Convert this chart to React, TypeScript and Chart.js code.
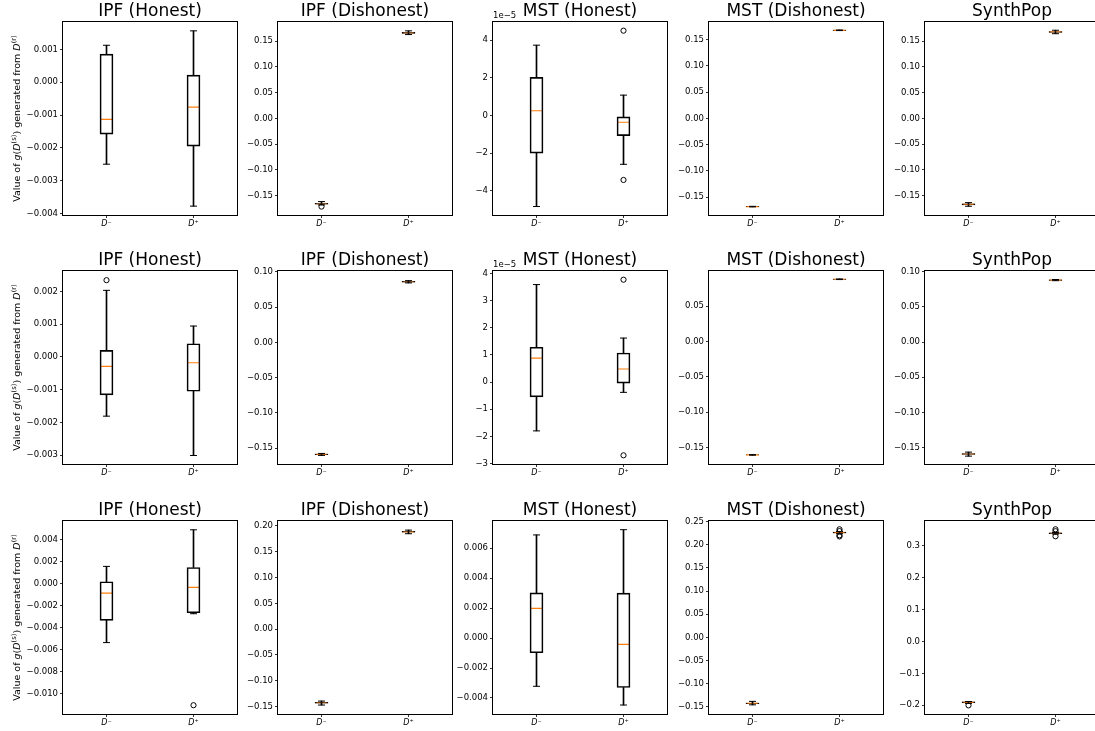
import React, { useEffect, useRef } from 'react';
import { Chart, registerables } from 'chart.js';

Chart.register(...registerables);

const panelTitles = ['IPF (Honest)', 'IPF (Dishonest)', 'MST (Honest)', 'MST (Dishonest)', 'SynthPop'];
const categories = ['D\u207B', 'D\u207A'];

// Panels listed row by row (3 rows x 5 columns); each pair is [D-, D+].
const whiskerLow = [
  [-0.0025, -0.00378], [-0.168, 0.1628], [-4.83e-5, -2.59e-5], [-0.1683, 0.1671], [-0.1705, 0.1645],
  [-0.00181, -0.00301], [-0.1605, 0.0845], [-1.8e-5, -0.38e-5], [-0.1609, 0.0876], [-0.1622, 0.0874],
  [-0.00536, -0.00273], [-0.1474, 0.185], [-0.00322, -0.00447], [-0.146, 0.224], [-0.1945, 0.337],
];
const quartile1 = [
  [-0.00158, -0.00195], [-0.1665, 0.1652], [-2.0e-5, -1.07e-5], [-0.168, 0.1674], [-0.1678, 0.167],
  [-0.00116, -0.00105], [-0.1596, 0.0855], [-0.55e-5, -0.04e-5], [-0.1606, 0.0879], [-0.1598, 0.0879],
  [-0.00333, -0.00264], [-0.1437, 0.1878], [-0.00098, -0.0033], [-0.1436, 0.2255], [-0.1925, 0.3382],
];
const medians = [
  [-0.00113, -0.00076], [-0.1657, 0.1662], [0.25e-5, -0.36e-5], [-0.1678, 0.1676], [-0.1668, 0.168],
  [-0.00029, -0.00018], [-0.1591, 0.0861], [0.88e-5, 0.48e-5], [-0.1605, 0.088], [-0.1592, 0.0883],
  [-0.00085, -0.00033], [-0.1429, 0.1887], [0.00198, -0.00042], [-0.1428, 0.2263], [-0.191, 0.3395],
];
const quartile3 = [
  [0.00086, 0.00022], [-0.1648, 0.1672], [2.02e-5, -0.07e-5], [-0.1676, 0.1678], [-0.1658, 0.1688],
  [0.0002, 0.0004], [-0.1586, 0.0867], [1.28e-5, 1.07e-5], [-0.1604, 0.0881], [-0.1585, 0.0887],
  [0.00018, 0.00148], [-0.1421, 0.1895], [0.00302, 0.003], [-0.142, 0.2272], [-0.1898, 0.3408],
];
const whiskerHigh = [
  [0.00113, 0.00157], [-0.1615, 0.17], [3.73e-5, 1.08e-5], [-0.1673, 0.1681], [-0.1635, 0.1712],
  [0.00203, 0.00094], [-0.1577, 0.0877], [3.59e-5, 1.62e-5], [-0.1601, 0.0884], [-0.1565, 0.0891],
  [0.00158, 0.00491], [-0.1397, 0.192], [0.00689, 0.00724], [-0.1385, 0.2285], [-0.1885, 0.342],
];
const outliersMinus = [
  [], [-0.1712], [], [], [],
  [0.00234], [], [], [], [],
  [], [], [], [], [-0.2006],
];
const outliersPlus = [
  [], [], [4.5e-5, -3.42e-5], [], [],
  [], [], [3.77e-5, -2.7e-5], [], [],
  [-0.01106], [], [], [0.2335, 0.2295, 0.2205, 0.218], [0.352, 0.346, 0.33],
];

const yMin = [
  -0.00405, -0.1875, -5.28e-5, -0.1838, -0.1875,
  -0.00327, -0.1727, -3.02e-5, -0.1734, -0.1734,
  -0.01186, -0.1648, -0.00507, -0.1658, -0.2277,
];
const yMax = [
  0.00184, 0.1872, 4.96e-5, 0.1834, 0.1872,
  0.00262, 0.1014, 4.09e-5, 0.0997, 0.1012,
  0.00571, 0.2097, 0.00782, 0.2514, 0.378,
];
const yTicks = [
  [-0.004, -0.003, -0.002, -0.001, 0, 0.001],
  [-0.15, -0.1, -0.05, 0, 0.05, 0.1, 0.15],
  [-4e-5, -2e-5, 0, 2e-5, 4e-5],
  [-0.15, -0.1, -0.05, 0, 0.05, 0.1, 0.15],
  [-0.15, -0.1, -0.05, 0, 0.05, 0.1, 0.15],
  [-0.003, -0.002, -0.001, 0, 0.001, 0.002],
  [-0.15, -0.1, -0.05, 0, 0.05, 0.1],
  [-3e-5, -2e-5, -1e-5, 0, 1e-5, 2e-5, 3e-5, 4e-5],
  [-0.15, -0.1, -0.05, 0, 0.05],
  [-0.15, -0.1, -0.05, 0, 0.05, 0.1],
  [-0.01, -0.008, -0.006, -0.004, -0.002, 0, 0.002, 0.004],
  [-0.15, -0.1, -0.05, 0, 0.05, 0.1, 0.15, 0.2],
  [-0.004, -0.002, 0, 0.002, 0.004, 0.006],
  [-0.15, -0.1, -0.05, 0, 0.05, 0.1, 0.15, 0.2, 0.25],
  [-0.2, -0.1, 0, 0.1, 0.2, 0.3],
];
const yTickDecimals = [3, 2, 0, 2, 2, 3, 2, 0, 2, 2, 3, 2, 3, 2, 1];
const yOffsetExponent = [0, 0, -5, 0, 0, 0, 0, -5, 0, 0, 0, 0, 0, 0, 0];
const yAxisLabelRuns = [
  { text: 'Value of ', italic: false, sup: false },
  { text: 'g', italic: true, sup: false },
  { text: '(', italic: false, sup: false },
  { text: 'D', italic: true, sup: false },
  { text: '(s)', italic: false, sup: true },
  { text: ') generated from ', italic: false, sup: false },
  { text: 'D', italic: true, sup: false },
  { text: '(r)', italic: false, sup: true },
];

// layout (pixels)
const COL_LEFT = [63, 278, 493, 709, 925];
const ROW_TOP = [22, 271, 521];
const PLOT_W = 174;
const PLOT_H = 193;
const Y_AXIS_W = 62;
const TITLE_H = 24;
const X_AXIS_H = 20;
const RIGHT_PAD = 8;
const CANVAS_W = Y_AXIS_W + PLOT_W + RIGHT_PAD;
const CANVAS_H = TITLE_H + PLOT_H + X_AXIS_H;
const FONT = "'DejaVu Sans', sans-serif";
const TICK_SIZE = 8.5;

function formatTick(v: number, i: number): string {
  const e = yOffsetExponent[i];
  let s: string;
  if (e !== 0) s = String(Math.round(v / Math.pow(10, e)));
  else s = v.toFixed(yTickDecimals[i]);
  if (/^-0(\.0+)?$/.test(s)) s = s.slice(1);
  return s.replace('-', '\u2212');
}

const framePlugin = {
  id: 'frame',
  afterDraw(chart: any) {
    const { ctx, chartArea: a } = chart;
    ctx.save();
    ctx.strokeStyle = '#000';
    ctx.lineWidth = 1;
    ctx.strokeRect(a.left - 0.5, a.top - 0.5, a.right - a.left + 1, a.bottom - a.top + 1);
    ctx.restore();
  },
};

function makeExtrasPlugin(i: number, col: number) {
  return {
    id: 'extras' + i,
    afterDraw(chart: any) {
      const { ctx, chartArea: a } = chart;
      ctx.save();
      ctx.fillStyle = '#000';
      if (yOffsetExponent[i] !== 0) {
        ctx.font = `${TICK_SIZE}px ${FONT}`;
        ctx.textAlign = 'left';
        ctx.textBaseline = 'bottom';
        ctx.fillText('1e\u2212' + Math.abs(yOffsetExponent[i]), a.left, a.top - 2);
      }
      if (col === 0) {
        const size = 9.5;
        const supSize = 6.8;
        const fontFor = (r: any) => `${r.italic ? 'italic ' : ''}${r.sup ? supSize : size}px ${FONT}`;
        let total = 0;
        const widths = yAxisLabelRuns.map((r) => {
          ctx.font = fontFor(r);
          const w = ctx.measureText(r.text).width;
          total += w;
          return w;
        });
        const cy = (a.top + a.bottom) / 2;
        ctx.translate(15, cy);
        ctx.rotate(-Math.PI / 2);
        ctx.textAlign = 'left';
        ctx.textBaseline = 'alphabetic';
        let x = -total / 2;
        yAxisLabelRuns.forEach((r, k) => {
          ctx.font = fontFor(r);
          ctx.fillText(r.text, x, r.sup ? 0 : 3.5);
          x += widths[k];
        });
      }
      ctx.restore();
    },
  };
}

function Panel({ index }: { index: number }) {
  const ref = useRef<HTMLCanvasElement>(null);
  const row = Math.floor(index / 5);
  const col = index % 5;
  useEffect(() => {
    const canvas = ref.current;
    if (!canvas) return;
    const i = index;
    const pts = (vals: number[], cat: string) => vals.map((y) => ({ x: cat, y }));
    const chart = new Chart(canvas, {
      type: 'bar',
      data: {
        labels: categories,
        datasets: [
          {
            type: 'bar',
            data: whiskerLow[i].map((lo, k) => [lo, quartile1[i][k]]),
            backgroundColor: '#000',
            borderWidth: 0,
            barThickness: 1,
            grouped: false,
          } as any,
          {
            type: 'bar',
            data: quartile3[i].map((q, k) => [q, whiskerHigh[i][k]]),
            backgroundColor: '#000',
            borderWidth: 0,
            barThickness: 1,
            grouped: false,
          } as any,
          {
            type: 'bar',
            data: quartile1[i].map((q, k) => [q, quartile3[i][k]]),
            backgroundColor: 'rgba(0,0,0,0)',
            borderColor: '#000',
            borderWidth: 1,
            borderSkipped: false,
            barThickness: 13,
            grouped: false,
          } as any,
          {
            type: 'scatter',
            data: [
              ...pts([whiskerLow[i][0], whiskerHigh[i][0]], categories[0]),
              ...pts([whiskerLow[i][1], whiskerHigh[i][1]], categories[1]),
            ],
            pointStyle: 'line',
            pointRadius: 3.5,
            pointBorderColor: '#000',
            pointBorderWidth: 1,
            borderColor: '#000',
          } as any,
          {
            type: 'scatter',
            data: [...pts([medians[i][0]], categories[0]), ...pts([medians[i][1]], categories[1])],
            pointStyle: 'line',
            pointRadius: 6.5,
            pointBorderColor: '#ff7f0e',
            pointBorderWidth: 1.2,
            borderColor: '#ff7f0e',
          } as any,
          {
            type: 'scatter',
            data: [...pts(outliersMinus[i], categories[0]), ...pts(outliersPlus[i], categories[1])],
            pointStyle: 'circle',
            pointRadius: 2.6,
            pointBorderColor: '#000',
            pointBackgroundColor: 'rgba(0,0,0,0)',
            pointBorderWidth: 1,
            borderColor: '#000',
          } as any,
        ],
      },
      options: {
        responsive: false,
        animation: false,
        events: [],
        layout: { padding: { left: 0, right: RIGHT_PAD, top: 0, bottom: 0 } },
        plugins: {
          legend: { display: false },
          tooltip: { enabled: false },
          title: {
            display: true,
            fullSize: false,
            align: 'center',
            text: panelTitles[col],
            color: '#000',
            font: { family: FONT, size: 17, weight: 'normal', lineHeight: 1.2 },
            padding: { top: 3.6, bottom: 0 },
          },
        },
        scales: {
          x: {
            type: 'category',
            offset: true,
            grid: {
              display: true,
              offset: false,
              drawOnChartArea: false,
              drawTicks: true,
              tickLength: 3,
              color: '#000',
              lineWidth: 0.8,
            },
            border: { display: false },
            ticks: {
              color: '#000',
              padding: 1,
              font: { family: FONT, size: 8, style: 'italic' },
            },
            afterFit: (s: any) => {
              s.height = X_AXIS_H;
            },
          },
          y: {
            type: 'linear',
            min: yMin[i],
            max: yMax[i],
            grid: {
              display: true,
              drawOnChartArea: false,
              drawTicks: true,
              tickLength: 3,
              color: '#000',
              lineWidth: 0.8,
            },
            border: { display: false },
            ticks: {
              color: '#000',
              padding: 2,
              font: { family: FONT, size: TICK_SIZE },
              callback: (v: any) => formatTick(Number(v), i),
            },
            afterBuildTicks: (s: any) => {
              s.ticks = yTicks[i].map((v) => ({ value: v }));
            },
            afterFit: (s: any) => {
              s.width = Y_AXIS_W;
            },
          },
        },
      } as any,
      plugins: [framePlugin, makeExtrasPlugin(i, col)],
    });
    return () => chart.destroy();
  }, [index]);
  return (
    <canvas
      ref={ref}
      width={CANVAS_W}
      height={CANVAS_H}
      style={{
        position: 'absolute',
        left: COL_LEFT[col] - Y_AXIS_W,
        top: ROW_TOP[row] - TITLE_H,
        width: CANVAS_W,
        height: CANVAS_H,
      }}
    />
  );
}

export default function App() {
  const panels = [];
  for (let i = 0; i < 15; i++) panels.push(<Panel key={i} index={i} />);
  return (
    <div
      style={{
        position: 'absolute',
        left: 0,
        top: 0,
        width: 1095,
        height: 731,
        overflow: 'hidden',
        background: '#fff',
      }}
    >
      {panels}
    </div>
  );
}
